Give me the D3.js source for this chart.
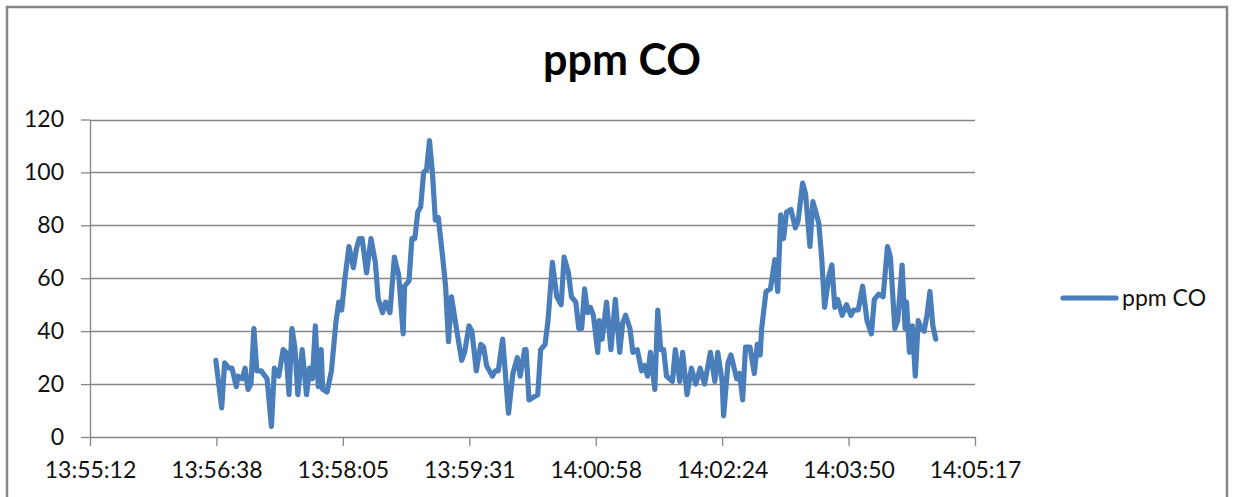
<!DOCTYPE html>
<html>
<head>
<meta charset="utf-8">
<script src="https://cdn.jsdelivr.net/npm/d3@7"></script>
<style>
body{margin:0;background:#fff;}
svg{display:block;}
.axis text{font-family:Lato,"Open Sans",sans-serif;font-size:23px;fill:#111;}
.axis path,.axis line{stroke:#868686;stroke-width:1.3;}
</style>
</head>
<body>
<div id="chart"></div>
<script>
// series: ppm CO, logged from 13:56:38; secs = seconds after start
const seriesName = "ppm CO";
const startTime = "13:56:38";
const secs = [0,4,6,9,11,14,15,18,20,22,24,26,28,31,35,38,40,43,46,48,50,52,54,56,59,62,64,66,68,70,72,73,76,79,82,84,86,88,91,94,96,98,100,103,106,109,111,114,116,119,122,125,128,129,132,134,136,138,140,142,144,146,148,150,152,155,157,159,161,165,168,170,173,175,178,181,183,185,189,191,193,196,200,203,206,208,211,212,214,217,220,222,225,227,230,233,236,238,241,243,246,248,250,252,254,256,258,261,262,264,267,270,273,276,278,280,283,285,288,291,293,295,297,300,302,304,306,308,312,314,317,319,322,325,328,331,334,338,341,343,346,347,350,352,356,358,360,362,365,368,370,372,373,376,379,382,384,386,388,390,393,396,398,401,403,406,408,412,414,416,419,421,423,425,428,431,434,436,439,442,445,448,450,453,456,459,461,464,466,469,471,472,474,476,478,480,482,484,486,488,490,492];
const ppm = [29,11,28,26,26,19,23,22,26,18,20,41,25,25,22,4,26,23,33,32,16,41,34,16,33,16,26,22,42,19,33,18,17,25,43,51,48,59,72,64,71,75,75,62,75,66,52,47,51,47,68,61,39,57,59,75,75,85,87,100,101,112,100,82,83,68,57,36,53,39,29,32,42,40,25,35,34,27,23,25,25,37,9,24,30,23,33,33,14,15,16,33,35,44,66,53,50,68,62,53,51,41,41,56,47,49,46,32,44,37,51,33,52,32,43,46,41,32,33,25,27,23,32,18,48,33,33,23,21,33,21,32,16,26,20,26,20,32,21,32,21,8,28,31,22,24,14,34,34,24,35,31,41,55,56,67,55,84,75,85,86,79,82,96,92,72,89,81,68,49,61,65,49,52,46,50,46,48,48,57,44,39,52,54,53,72,68,41,44,65,41,51,32,42,23,44,41,40,46,55,42,37];

// axis: Excel date axis, major unit 0.001 day
const axisStart = "13:55:12";
const xTickLabels = ["13:55:12","13:56:38","13:58:05","13:59:31","14:00:58","14:02:24","14:03:50","14:05:17"];
const yTicks = [0,20,40,60,80,100,120];

const width = 1234, height = 497;
const parse = d3.timeParse("%H:%M:%S");
const t0 = parse(axisStart);
const unit = 86400; // ms in 0.001 day
const xTickDates = xTickLabels.map((d,i) => new Date(t0.getTime() + i*unit));
const tStart = parse(startTime);
const data = secs.map((s,i) => ({t:new Date(tStart.getTime() + s*1000), v:ppm[i]}));

const svg = d3.select('#chart').append('svg')
    .attr('width',width)
    .attr('height',height);

// chart area border
svg.append('rect')
    .attr('x',7).attr('y',7)
    .attr('width',1220).attr('height',510)
    .attr('fill','#fff')
    .attr('stroke','#868686')
    .attr('stroke-width',2.5);

const xScale = d3.scaleTime().domain([t0, xTickDates[xTickDates.length-1]]).range([90,975]);
const yScale = d3.scaleLinear().domain([0,120]).range([437,119.5]);

// gridlines
svg.append('g').selectAll('line').data(yTicks.slice(1)).enter().append('line')
    .attr('x1',90).attr('x2',975)
    .attr('y1',d => Math.round(yScale(d))+0.5)
    .attr('y2',d => Math.round(yScale(d))+0.5)
    .attr('stroke','#868686')
    .attr('stroke-width',1.3);

const yAxis = svg.append('g')
    .attr('class','axis')
    .attr('transform','translate(90,0)')
    .call(d3.axisLeft(yScale).tickValues(yTicks).tickSize(9).tickSizeOuter(0).tickPadding(17));

const xAxis = svg.append('g')
    .attr('class','axis')
    .attr('transform','translate(0,437)')
    .call(d3.axisBottom(xScale).tickValues(xTickDates).tickSize(9).tickSizeOuter(0).tickPadding(16)
        .tickFormat((d,i) => xTickLabels[i]));

// series line
const line = d3.line().x(d => xScale(d.t)).y(d => yScale(d.v));
svg.append('path')
    .datum(data)
    .attr('d',line)
    .attr('fill','none')
    .attr('stroke','#4a7ebb')
    .attr('stroke-width',5.2)
    .attr('stroke-linejoin','round')
    .attr('stroke-linecap','round');

// title
svg.append('text')
    .attr('x',622).attr('y',75)
    .attr('text-anchor','middle')
    .style('font-family','Lato,"Open Sans",sans-serif')
    .style('font-weight','bold')
    .style('font-size','43px')
    .style('fill','#000')
    .text(seriesName);

// legend
svg.append('line')
    .attr('x1',1063).attr('x2',1116)
    .attr('y1',298).attr('y2',298)
    .attr('stroke','#4a7ebb')
    .attr('stroke-width',5.2)
    .attr('stroke-linecap','round');
svg.append('text')
    .attr('x',1122).attr('y',306)
    .style('font-family','Lato,"Open Sans",sans-serif')
    .style('font-size','23px')
    .style('fill','#111')
    .text(seriesName);
</script>
</body>
</html>
